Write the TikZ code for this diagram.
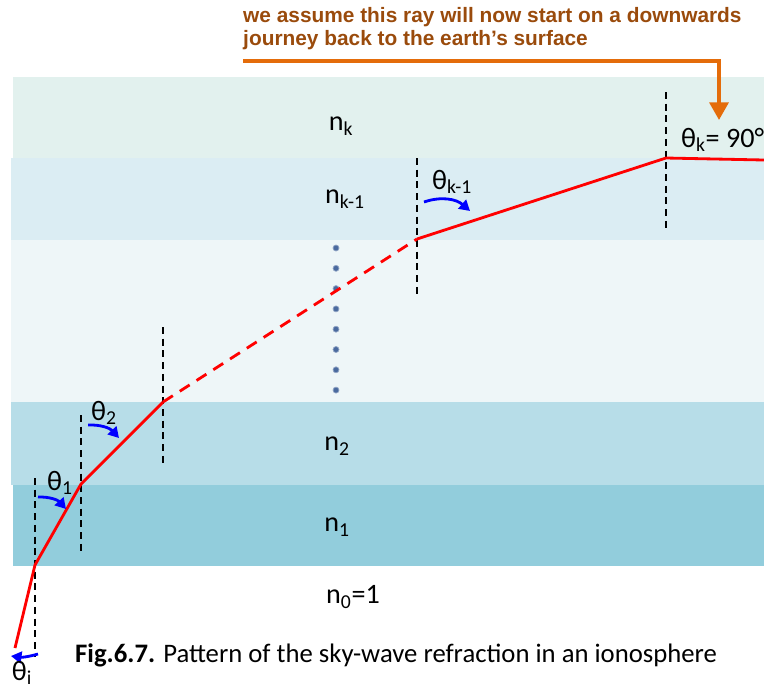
\documentclass[tikz,border=0pt]{standalone}
\usepackage{fontspec}
\setmainfont{Carlito}
\newfontfamily\notefont{Liberation Sans}
\usetikzlibrary{arrows.meta}
\definecolor{layerk}{HTML}{E2F1EE}
\definecolor{layerkm}{HTML}{DBEDF3}
\definecolor{layermid}{HTML}{EEF6F8}
\definecolor{layertwo}{HTML}{B7DDE8}
\definecolor{layerone}{HTML}{92CDDC}
\definecolor{noteorange}{HTML}{E46C0A}
\definecolor{notetext}{HTML}{9A4B0C}
\definecolor{dotblue}{HTML}{4A6A9F}
\tikzset{
  layer/.style={draw=none},
  ray/.style={draw=red, line width=2.4pt, line join=round},
  normal/.style={draw=black, line width=1.3pt, dash pattern=on 6pt off 4pt},
  anglearrow/.style={draw=blue, line width=2.4pt, -{Triangle[length=9pt,width=10pt]}},
  indexlabel/.style={font=\fontsize{24}{28}\selectfont, inner sep=0pt},
  anglelabel/.style={font=\fontsize{24}{28}\selectfont, inner sep=0pt},
  captionlabel/.style={font=\fontsize{22.8}{26}\selectfont, inner sep=0pt},
  notelabel/.style={font=\notefont\bfseries\fontsize{17.8}{20}\selectfont, text=notetext, align=left, inner sep=0pt},
  callout/.style={draw=noteorange, line width=3.2pt, -{Triangle[length=15pt,width=16pt]}},
  layerdot/.style={fill=dotblue, draw=dotblue!60, line width=0.6pt},
}

\begin{document}
\begin{tikzpicture}[x=0.03cm, y=-0.03cm]
\useasboundingbox (0,0) rectangle (764,689);
% layers of the ionosphere
\fill[layer, layerk] (13,77) rectangle (764,158);
\fill[layer, layerkm] (11,158) rectangle (764,240);
\fill[layer, layermid] (11,240) rectangle (764,402);
\fill[layer, layertwo] (11,402) rectangle (764,485);
\fill[layer, layerone] (13,485) rectangle (764,566);
% refractive indices
\node[indexlabel] (nk) at (341,126) {n\textsubscript{k}};
\node[indexlabel] (nkm) at (345,199) {n\textsubscript{k-1}};
\node[indexlabel] (ntwo) at (337,446) {n\textsubscript{2}};
\node[indexlabel] (none) at (337,527) {n\textsubscript{1}};
\node[indexlabel] (nzero) at (353,597) {n\textsubscript{0}=1};
% dots for the skipped layers
\foreach \i in {0,...,7}
  \draw[layerdot] (336,248+20.3*\i) circle (3);
% normals at the boundaries
\coordinate (ntop0) at (35,478);   \coordinate (nbot0) at (35,657);
\coordinate (ntop1) at (81,415);   \coordinate (nbot1) at (81,553);
\coordinate (ntop2) at (163,327);  \coordinate (nbot2) at (163,465);
\coordinate (ntop3) at (417,158);  \coordinate (nbot3) at (417,297);
\coordinate (ntop4) at (666,92);   \coordinate (nbot4) at (666,230);
\foreach \j in {0,...,4}
  \draw[normal] (ntop\j) -- (nbot\j);
% the ray
\coordinate (start) at (15,648);
\coordinate (hit0) at (35,565);
\coordinate (hit1) at (81,484);
\coordinate (hit2) at (163,402);
\coordinate (hit3) at (417,239);
\coordinate (hit4) at (666,158);
\coordinate (exit) at (764,160);
\draw[ray] (start) -- (hit0) -- (hit1) -- (hit2);
\draw[ray, dash pattern=on 10pt off 7pt] (hit2) -- (hit3);
\draw[ray] (hit3) -- (hit4) -- (exit);
% angles
\coordinate (ai0) at (38,654);  \coordinate (bi0) at (11,656);
\coordinate (ai1) at (38,497);  \coordinate (bi1) at (66,509);
\coordinate (ai2) at (88,425);  \coordinate (bi2) at (119,438);
\coordinate (ai3) at (424,202); \coordinate (bi3) at (470,211);
\draw[anglearrow] (ai0) to[bend left=12] (bi0);
\draw[anglearrow] (ai1) to[bend left=25] (bi1);
\draw[anglearrow] (ai2) to[bend left=25] (bi2);
\draw[anglearrow] (ai3) to[bend left=30] (bi3);
\node[anglelabel] (thetai) at (22,673) {θ\textsubscript{i}};
\node[anglelabel] (thetaone) at (60,483) {θ\textsubscript{1}};
\node[anglelabel] (thetatwo) at (104,413) {θ\textsubscript{2}};
\node[anglelabel] (thetakm) at (452,182) {θ\textsubscript{k-1}};
\node[anglelabel, anchor=west] (thetak) at (681,140) {θ\textsubscript{k}= 90°};
% note on the top
\node[notelabel, anchor=north west] (note) at (243,7) {we assume this ray will now start on a downwards\\journey back to the earth’s surface};
\coordinate (notefoot) at (243,61);
\coordinate (notetip) at (719,120);
\draw[callout] (notefoot) -| (notetip);
% caption
\node[captionlabel, anchor=west] (caption) at (75,655) {\textbf{Fig.6.7.} Pattern of the sky-wave refraction in an ionosphere};
\end{tikzpicture}
\end{document}
